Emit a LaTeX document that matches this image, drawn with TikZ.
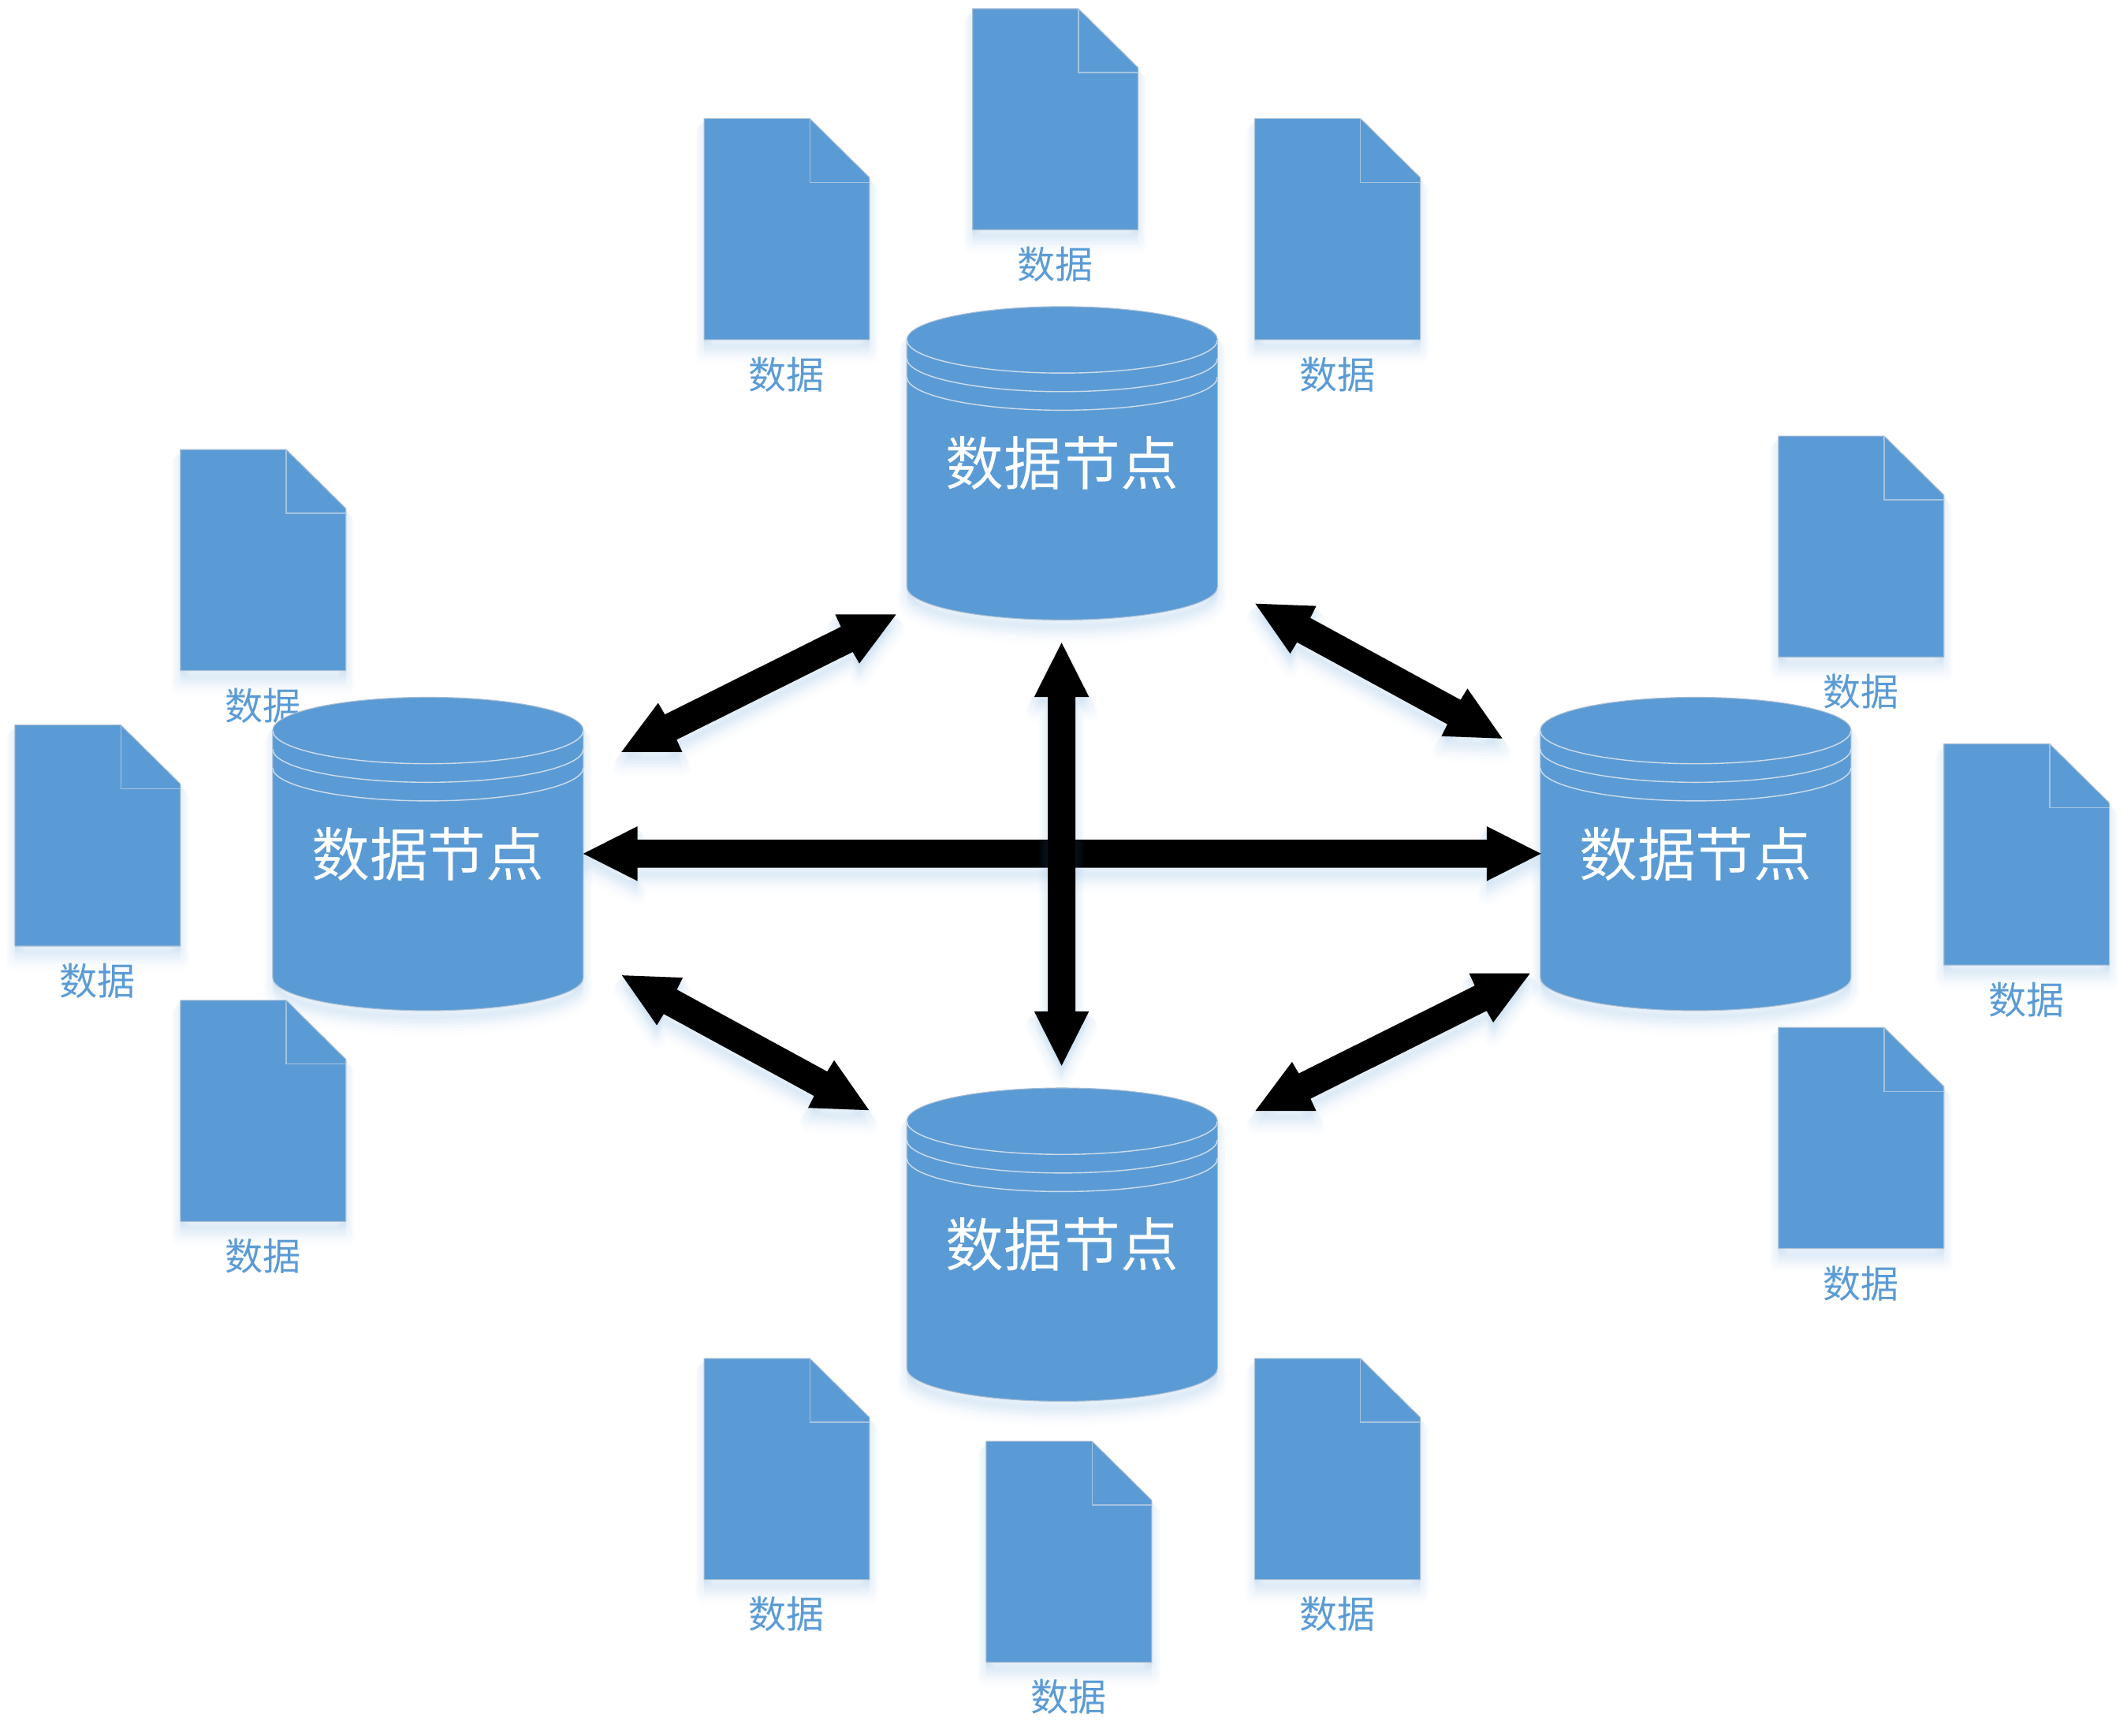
\documentclass[tikz,border=0pt]{standalone}
\usepackage{fontspec}
\setmainfont{Noto Sans CJK SC}
\usetikzlibrary{calc}
\definecolor{office}{HTML}{5B9BD5}
\definecolor{edgeline}{HTML}{A9BDD2}
\definecolor{ringline}{HTML}{CFDCE9}
\definecolor{foldline}{HTML}{A4C3E0}
\tikzset{
  x=0.017207cm, y=-0.017207cm,
  shapefill/.style={fill=office, draw=edgeline, line width=0.3pt, line join=round},
  ringstroke/.style={draw=ringline, line width=0.4pt},
  foldstroke/.style={draw=foldline, line width=0.35pt},
  arrowfill/.style={fill=black},
  doclabel/.style={text=office, font=\fontsize{13.7}{16}\selectfont, inner sep=0pt},
  cyllabel/.style={text=white, font=\fontsize{21}{25}\selectfont, inner sep=0pt}
}
% soft blurred shadow under an arbitrary path: each layer lower and wider than the last
\newcommand{\softshadow}[1]{%
  \foreach \sh/\wd in {0.02/0.02,0.045/0.05,0.07/0.08,0.095/0.11,0.12/0.14,0.145/0.17,0.17/0.20,0.195/0.23}{%
    \path[transform canvas={yshift=-\sh cm}, draw=office, fill=office, fill opacity=0.018, draw opacity=0.018,
          line width=\wd cm, line join=round] #1;}%
}
% document sheet: #1 x, #2 y (top-left), #3 name
\newcommand{\docsheet}[3]{%
  \begin{scope}[shift={(#1,#2+0.4)}]
    \softshadow{(0,0) -- (78,0) -- (122,43.5) -- (122,163) -- (0,163) -- cycle}
    \path[shapefill] (0,0) -- (78,0) -- (122,43.5) -- (122,163) -- (0,163) -- cycle;
    \draw[foldstroke] (78,0) -- (78,47) -- (122,47);
    \node[doclabel] (#3) at (61,188.6) {数据};
  \end{scope}%
}
% ellipse lower half with rim at y=#1
\newcommand{\lowerhalf}[1]{(-114.5,#1) .. controls (-114.5,#1+13.5) and (-63.2,#1+24.5) .. (0,#1+24.5) .. controls (63.2,#1+24.5) and (114.5,#1+13.5) .. (114.5,#1)}
% cylinder: #1 centre x, #2 centre y, #3 name
\newcommand{\datacyl}[3]{%
  \begin{scope}[shift={(#1,#2)}]
    \def\cylpath{(-114.5,-91) .. controls (-114.5,-104.5) and (-63.2,-115.5) .. (0,-115.5) .. controls (63.2,-115.5) and (114.5,-104.5) .. (114.5,-91) -- (114.5,91) .. controls (114.5,104.5) and (63.2,115.5) .. (0,115.5) .. controls (-63.2,115.5) and (-114.5,104.5) .. (-114.5,91) -- cycle}%
    \softshadow{\cylpath}
    \path[shapefill] \cylpath;
    \draw[ringstroke] \lowerhalf{-91};
    \draw[ringstroke] \lowerhalf{-77.3};
    \draw[ringstroke] \lowerhalf{-63.6};
    \node[cyllabel] (#3) at (0,0) {数据节点};
  \end{scope}%
}
% double block arrow between named tips #1 and #2; offsets from tip #2 (negated at tip #1)
\newcommand{\blockarrow}[6]{%
  \def\arrowpath{(#2) -- ($(#2)+(#3)$) -- ($(#2)+(#4)$) -- ($(#1)-(#5)$) -- ($(#1)-(#6)$) -- (#1) -- ($(#1)-(#3)$) -- ($(#1)-(#4)$) -- ($(#2)+(#5)$) -- ($(#2)+(#6)$) -- cycle}%
  \softshadow{\arrowpath}
  \path[arrowfill] \arrowpath;%
}
\begin{document}
\begin{tikzpicture}
\useasboundingbox (0,0) rectangle (1568,1279.7);

% document sheets and their labels
\docsheet{717}{6}{dTa}
\docsheet{519}{87}{dTb}
\docsheet{925}{87}{dTc}
\docsheet{133}{331}{dLa}
\docsheet{11}{534}{dLb}
\docsheet{133}{737}{dLc}
\docsheet{1311}{321}{dRa}
\docsheet{1433}{548}{dRb}
\docsheet{1311}{757}{dRc}
\docsheet{519}{1001}{dBa}
\docsheet{727}{1062}{dBb}
\docsheet{925}{1001}{dBc}

% data nodes
\datacyl{783}{341.5}{nT}
\datacyl{315.5}{629.5}{nL}
\datacyl{1250}{629.5}{nR}
\datacyl{783}{917.5}{nB}

% connector ends
\coordinate (lrA) at (430,629.3);
\coordinate (lrB) at (1136,629.3);
\coordinate (tbA) at (782.6,473.8);
\coordinate (tbB) at (782.6,785.6);
\coordinate (ltA) at (458.1,554.4);
\coordinate (ltB) at (660.6,452.9);
\coordinate (trA) at (925.4,445);
\coordinate (trB) at (1107.5,544.4);
\coordinate (lbA) at (458.5,719);
\coordinate (lbB) at (640.6,818.4);
\coordinate (brA) at (925.4,819);
\coordinate (brB) at (1127.9,717.5);

% connectors
\blockarrow{lrA}{lrB}{-40,-20.2}{-40,-10.3}{-40,10.3}{-40,20.2}
\blockarrow{tbA}{tbB}{-20.2,-40}{-10.2,-40}{10.2,-40}{20.2,-40}
\blockarrow{ltA}{ltB}{-44.9,0}{-40.7,9.1}{-32,27.7}{-27.1,36.2}
\blockarrow{brA}{brB}{-44.9,0}{-40.7,9.1}{-32,27.7}{-27.1,36.2}
\blockarrow{trA}{trB}{-44.9,-1.7}{-40.5,-10.5}{-30.8,-28.5}{-25.7,-36.8}
\blockarrow{lbA}{lbB}{-44.9,-1.7}{-40.5,-10.5}{-30.8,-28.5}{-25.7,-36.8}
\end{tikzpicture}
\end{document}
